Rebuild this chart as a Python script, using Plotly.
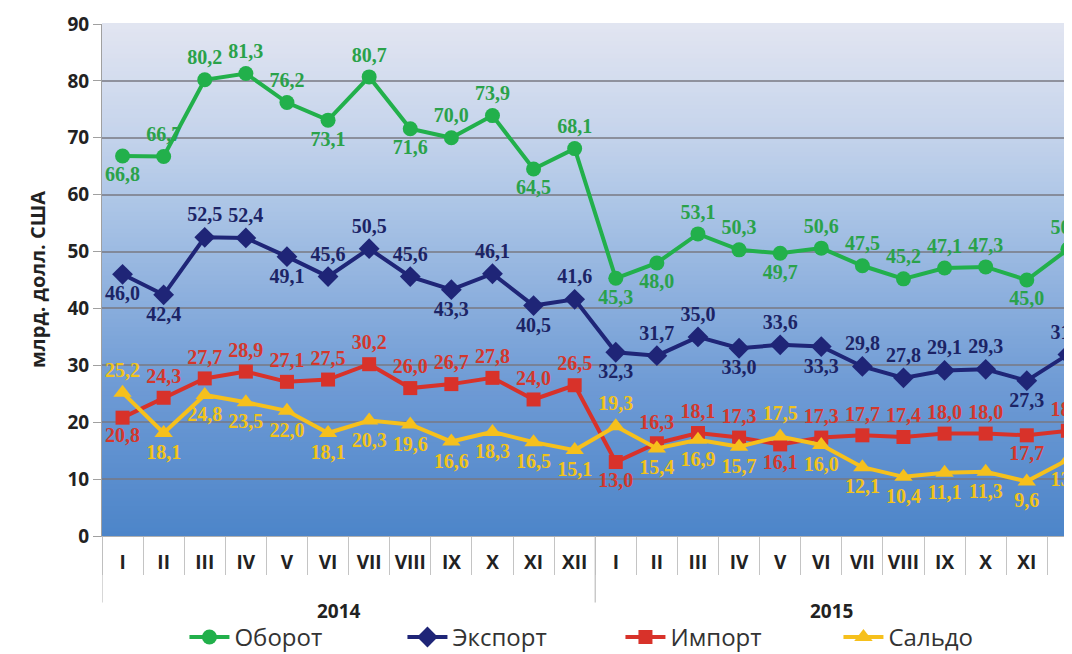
import plotly.graph_objects as go

months = ["I", "II", "III", "IV", "V", "VI", "VII", "VIII", "IX", "X", "XI", "XII"]
years = ["2014", "2015"]

oborot = [66.8, 66.7, 80.2, 81.3, 76.2, 73.1, 80.7, 71.6, 70.0, 73.9, 64.5, 68.1,
          45.3, 48.0, 53.1, 50.3, 49.7, 50.6, 47.5, 45.2, 47.1, 47.3, 45.0, 50.4]
eksport = [46.0, 42.4, 52.5, 52.4, 49.1, 45.6, 50.5, 45.6, 43.3, 46.1, 40.5, 41.6,
           32.3, 31.7, 35.0, 33.0, 33.6, 33.3, 29.8, 27.8, 29.1, 29.3, 27.3, 31.9]
import_ = [20.8, 24.3, 27.7, 28.9, 27.1, 27.5, 30.2, 26.0, 26.7, 27.8, 24.0, 26.5,
           13.0, 16.3, 18.1, 17.3, 16.1, 17.3, 17.7, 17.4, 18.0, 18.0, 17.7, 18.5]
saldo = [25.2, 18.1, 24.8, 23.5, 22.0, 18.1, 20.3, 19.6, 16.6, 18.3, 16.5, 15.1,
         19.3, 15.4, 16.9, 15.7, 17.5, 16.0, 12.1, 10.4, 11.1, 11.3, 9.6, 13.4]

# label placement (style only)
T, B = "top center", "bottom center"
pos_oborot = [B, T, T, T, T, B, T, B, T, T, B, T,
              B, B, T, T, B, T, T, T, T, T, B, T]
pos_eksport = [B, B, T, T, B, T, T, T, B, T, B, T,
               B, T, T, B, T, B, T, T, T, T, B, T]
pos_import = [B, T, T, T, T, T, T, T, T, T, T, T,
              B, T, T, T, B, T, T, T, T, T, B, T]
pos_saldo = [T, B, B, B, B, B, B, B, B, B, B, B,
             T, B, B, B, T, B, B, B, B, B, B, B]

n = len(years) * len(months)
xs = list(range(n))
month_labels = months * len(years)

def fmt(v):
    return f"{v:.1f}".replace(".", ",")

series = [
    ("Оборот", oborot, pos_oborot, "#22b04b", "#2aa24a", "circle", 15),
    ("Экспорт", eksport, pos_eksport, "#1f2577", "#1c2466", "diamond", 16),
    ("Импорт", import_, pos_import, "#d8322a", "#d4372c", "square", 14),
    ("Сальдо", saldo, pos_saldo, "#f6c01c", "#f2c31a", "triangle-up", 16),
]

fig = go.Figure()
for name, vals, pos, col, tcol, sym, msz in series:
    fig.add_trace(go.Scatter(
        x=xs, y=vals, name=name, mode="lines+markers+text",
        line=dict(color=col, width=4),
        marker=dict(symbol=sym, size=msz, color=col),
        text=[fmt(v) for v in vals], textposition=pos,
        textfont=dict(family="Liberation Serif", size=20, color=tcol, weight="bold"),
        cliponaxis=False,
    ))

# gradient background (plot area)
stops = [(0.0, (77, 133, 201)), (0.3, (111, 155, 213)), (0.6, (164, 192, 228)),
         (0.8, (199, 213, 236)), (1.0, (226, 229, 241))]
def col_at(t):
    for (a, ca), (b, cb) in zip(stops[:-1], stops[1:]):
        if a <= t <= b:
            f = (t - a) / (b - a)
            return tuple(int(round(ca[i] + (cb[i] - ca[i]) * f)) for i in range(3))
    return stops[-1][1]

shapes = []
N = 120
for i in range(N):
    t0, t1 = i / N, (i + 1) / N
    c = col_at((t0 + t1) / 2)
    shapes.append(dict(type="rect", xref="x domain", yref="y domain",
                       x0=0, x1=1, y0=t0, y1=t1 + 0.002, layer="below",
                       line=dict(width=0), fillcolor=f"rgb{c}"))

# year dividers
for k in range(len(years) + 1):
    shapes.append(dict(type="line", xref="x", yref="paper",
                       x0=k * len(months) - 0.5, x1=k * len(months) - 0.5,
                       y0=0, y1=-0.13, line=dict(color="#bdbdbd", width=1.2)))

annotations = []
for k, yr in enumerate(years):
    annotations.append(dict(x=k * len(months) + (len(months) - 1) / 2, y=-0.146,
                            xref="x", yref="paper", text=yr, showarrow=False, xshift=-10,
                            font=dict(family="Open Sans", size=19, color="#222", weight="bold"),
                            yanchor="middle"))

# y-axis title as annotation (fixed position)
annotations.append(dict(x=-0.067, y=0.5, xref="paper", yref="paper", xanchor="center",
                        yanchor="middle", text="млрд. долл. США", textangle=-90,
                        showarrow=False,
                        font=dict(family="Open Sans", size=20, color="#222", weight="bold")))

fig.update_layout(
    width=1064, height=660,
    margin=dict(l=94, r=0, t=16, b=132),
    paper_bgcolor="white", plot_bgcolor="#a4c0e4",
    shapes=shapes, annotations=annotations,
    showlegend=True,
    legend=dict(orientation="h", x=0.085, xanchor="left", y=-0.198, yanchor="middle",
                font=dict(family="Open Sans", size=24, color="#333"),
                entrywidth=163, itemwidth=40, traceorder="normal"),
    xaxis=dict(range=[-0.5, 23.1], tickmode="array", tickvals=xs, ticktext=month_labels,
               automargin=False,
               ticks="outside", ticklen=9, tickcolor="rgba(0,0,0,0)",
               tickfont=dict(family="Open Sans", size=19, color="#222", weight="bold"),
               showgrid=False, zeroline=False, showline=True, linecolor="#b0b0b0", linewidth=1,
               minor=dict(tickmode="array", tickvals=[i - 0.5 for i in range(n + 1)],
                          ticks="outside", ticklen=38, tickcolor="#c4c4c4", tickwidth=1.2)),
    yaxis=dict(range=[0, 90], tickmode="linear", tick0=0, dtick=10, automargin=False,
               ticks="outside", ticklen=8, tickcolor="#a0a0a0",
               tickfont=dict(family="Open Sans", size=19, color="#222", weight="bold"),
               showgrid=True, gridcolor="rgba(120,120,130,0.75)", gridwidth=1.5,
               zeroline=False, showline=True, linecolor="#a0a0a0", linewidth=1),
)

fig.write_html("out.html")
